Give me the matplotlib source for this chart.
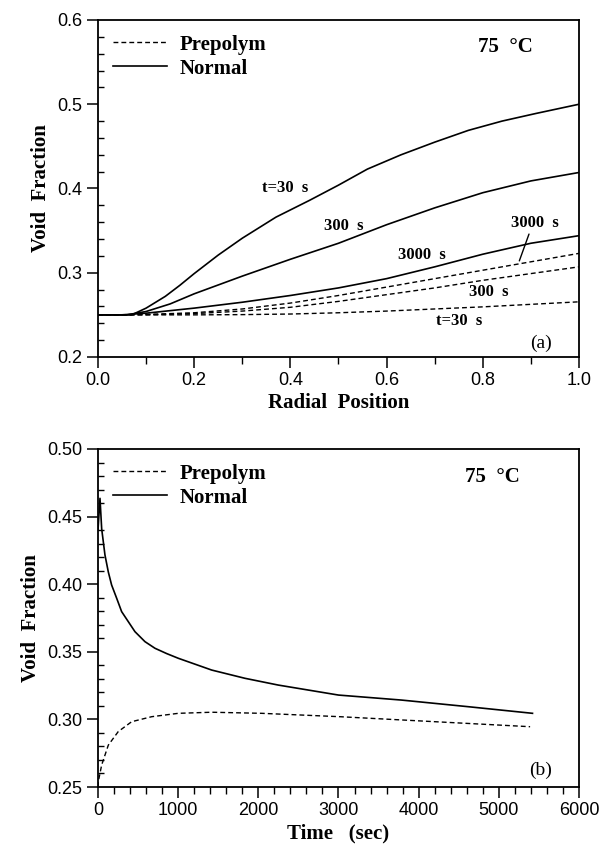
import matplotlib
matplotlib.use("Agg")
import matplotlib.pyplot as plt
from matplotlib.ticker import MultipleLocator, FormatStrFormatter

# panel (a): void fraction vs radial position
r_norm_30 = [0, 0.07, 0.1, 0.14, 0.17, 0.2, 0.25, 0.3, 0.37, 0.44, 0.5, 0.56, 0.63, 0.7, 0.77, 0.84, 0.91, 1.0]
v_norm_30 = [0.25, 0.25, 0.258, 0.272, 0.285, 0.299, 0.321, 0.341, 0.366, 0.386, 0.404, 0.423,
             0.440, 0.455, 0.469, 0.480, 0.489, 0.500]
r_norm_300 = [0, 0.06, 0.1, 0.15, 0.2, 0.3, 0.4, 0.5, 0.6, 0.7, 0.8, 0.9, 1.0]
v_norm_300 = [0.25, 0.25, 0.254, 0.263, 0.275, 0.296, 0.316, 0.335, 0.357, 0.377, 0.395, 0.409, 0.419]
r_norm_3000 = [0, 0.05, 0.1, 0.2, 0.3, 0.4, 0.5, 0.6, 0.7, 0.8, 0.9, 1.0]
v_norm_3000 = [0.25, 0.25, 0.252, 0.258, 0.265, 0.273, 0.282, 0.293, 0.307, 0.322, 0.335, 0.344]

r_pre = [0, 0.1, 0.2, 0.3, 0.4, 0.5, 0.6, 0.7, 0.8, 0.9, 1.0]
v_pre_30 = [0.25, 0.25, 0.25, 0.2503, 0.251, 0.2525, 0.2545, 0.257, 0.2595, 0.2625, 0.2655]
v_pre_300 = [0.25, 0.2502, 0.2515, 0.2545, 0.259, 0.266, 0.274, 0.282, 0.291, 0.299, 0.307]
v_pre_3000 = [0.25, 0.2505, 0.2525, 0.257, 0.264, 0.273, 0.283, 0.293, 0.303, 0.313, 0.323]

# panel (b): void fraction vs time
t_norm = [0, 25, 46, 87, 129, 170, 233, 295, 378, 461, 586, 711, 856, 1002, 1418, 1833,
          2248, 3000, 3786, 4617, 5420]
v_norm = [0.44, 0.4635, 0.441, 0.4216, 0.409, 0.3994, 0.3896, 0.3797, 0.3723, 0.3649, 0.3575,
          0.3526, 0.3487, 0.3452, 0.3365, 0.3304, 0.3254, 0.318, 0.3143, 0.3094, 0.3045]
t_pre = [0, 4, 46, 129, 253, 420, 670, 1002, 1418, 2041, 3017, 4202, 5390]
v_pre = [0.25, 0.254, 0.2663, 0.281, 0.291, 0.2983, 0.302, 0.3045, 0.3053, 0.3045, 0.302, 0.2983, 0.2946]

serif = "Liberation Serif"
sans = "Liberation Sans"
dash = (0, (3.5, 2.2))

fig = plt.figure(figsize=(6.03, 8.51), dpi=100)
ax1 = fig.add_axes([0.1625, 0.5805, 0.7977, 0.396])
ax2 = fig.add_axes([0.1625, 0.0752, 0.7977, 0.3972])

lw = 1.2
ax1.plot(r_pre, v_pre_30, color="black", lw=1.0, ls=dash)
ax1.plot(r_pre, v_pre_300, color="black", lw=1.0, ls=dash)
ax1.plot(r_pre, v_pre_3000, color="black", lw=1.0, ls=dash, label="Prepolym")
ax1.plot(r_norm_30, v_norm_30, color="black", lw=lw, label="Normal")
ax1.plot(r_norm_300, v_norm_300, color="black", lw=lw)
ax1.plot(r_norm_3000, v_norm_3000, color="black", lw=lw)

ax1.set_xlim(0, 1.0)
ax1.set_ylim(0.2, 0.6)
ax1.xaxis.set_major_locator(MultipleLocator(0.2))
ax1.xaxis.set_minor_locator(MultipleLocator(0.1))
ax1.yaxis.set_major_locator(MultipleLocator(0.1))
ax1.yaxis.set_minor_locator(MultipleLocator(0.02))
ax1.xaxis.set_major_formatter(FormatStrFormatter("%.1f"))
ax1.yaxis.set_major_formatter(FormatStrFormatter("%.1f"))

ann = dict(fontsize=12, fontweight="bold", family=serif, ha="center", va="center")
ax1.text(0.39, 0.400, "t=30  s", **ann)
ax1.text(0.51, 0.355, "300  s", **ann)
ax1.text(0.673, 0.321, "3000  s", **ann)
ax1.text(0.909, 0.359, "3000  s", **ann)
ax1.text(0.813, 0.2775, "300  s", **ann)
ax1.text(0.751, 0.243, "t=30  s", **ann)
ax1.annotate("", xy=(0.874, 0.311), xytext=(0.898, 0.349),
             arrowprops=dict(arrowstyle="-", color="black", lw=1.0))
ax1.text(0.92, 0.216, "(a)", fontsize=14, family=serif, ha="center", va="center")
ax1.text(0.846, 0.568, "75  °C", fontsize=15, fontweight="bold", family=serif,
         ha="center", va="center")
ax1.set_xlabel("Radial  Position", fontsize=15, fontweight="bold", family=serif, labelpad=3)
ax1.set_ylabel("Void  Fraction", fontsize=15, fontweight="bold", family=serif, labelpad=5)

ax2.plot(t_pre, v_pre, color="black", lw=1.0, ls=dash, label="Prepolym")
ax2.plot(t_norm, v_norm, color="black", lw=lw, label="Normal")
ax2.set_xlim(0, 6000)
ax2.set_ylim(0.25, 0.50)
ax2.xaxis.set_major_locator(MultipleLocator(1000))
ax2.xaxis.set_minor_locator(MultipleLocator(200))
ax2.yaxis.set_major_locator(MultipleLocator(0.05))
ax2.yaxis.set_minor_locator(MultipleLocator(0.01))
ax2.yaxis.set_major_formatter(FormatStrFormatter("%.2f"))
ax2.text(4925, 0.4795, "75  °C", fontsize=15, fontweight="bold", family=serif,
         ha="center", va="center")
ax2.text(5517, 0.2626, "(b)", fontsize=14, family=serif, ha="center", va="center")
ax2.set_xlabel("Time   (sec)", fontsize=15, fontweight="bold", family=serif, labelpad=3)
ax2.set_ylabel("Void  Fraction", fontsize=15, fontweight="bold", family=serif, labelpad=5)

for ax in (ax1, ax2):
    for s in ax.spines.values():
        s.set_linewidth(1.3)
    ax.tick_params(which="major", direction="out", length=8, width=1.1,
                   labelsize=13, pad=3)
    ax.tick_params(which="minor", direction="out", length=5, width=1.0)
    ax.tick_params(axis="y", which="minor", direction="in", length=4)
    for lab in ax.get_xticklabels() + ax.get_yticklabels():
        lab.set_family(sans)
    leg = ax.legend(loc="upper left", frameon=False, handlelength=2.6,
                    handletextpad=0.6, labelspacing=0.2, borderaxespad=0.3,
                    prop=dict(family=serif, weight="bold", size=15))

fig.savefig("out.png", dpi=100)
